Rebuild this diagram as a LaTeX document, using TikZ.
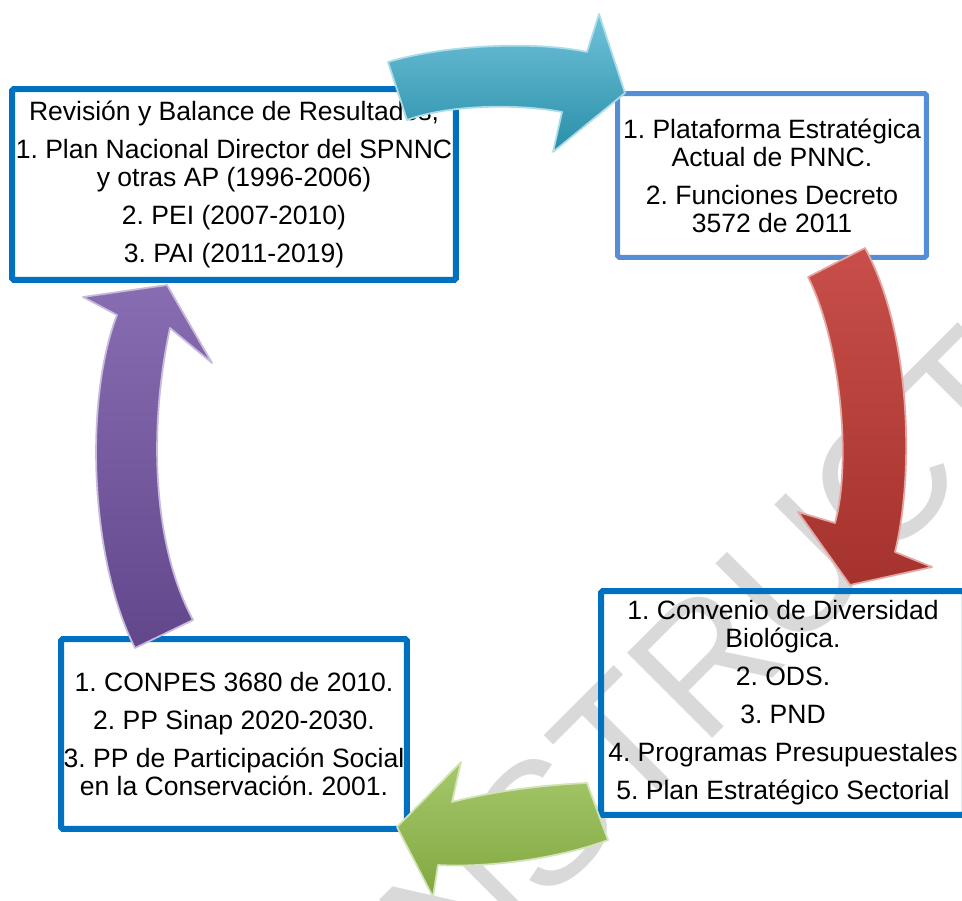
\documentclass[tikz,border=0pt]{standalone}
\usepackage{fontspec}
\setmainfont{Liberation Sans}
\frenchspacing
\definecolor{boxblue}{HTML}{0070C0}
\definecolor{boxsky}{HTML}{558ED5}
\definecolor{arrcyan}{HTML}{31A8C8}
\definecolor{arrred}{HTML}{C23B35}
\definecolor{arrgreen}{HTML}{8FBA47}
\definecolor{arrpurple}{HTML}{7353A5}

\begin{document}
\begin{tikzpicture}[x=0.02cm, y=-0.02cm,
    box/.style={draw=boxblue, line width=0.12cm, rounded corners=1pt,
                inner sep=0pt, align=center,
                font=\fontsize{15.1}{15.9}\selectfont},
    bigarrow/.style={line width=1pt, line join=round},
  ]
  \useasboundingbox (0,0) rectangle (962,901);
  \clip (0,0) rectangle (962,901);

  % watermark
  \node[rotate=45, text=black!15, font=\fontsize{99.6}{100}\selectfont]
        (marca) at (797,568) {INSTRUCTIVO};

  % boxes
  \node[box, minimum width=8.88cm, minimum height=3.82cm]
        (revision) at (234,184.5)
        {Revisión y Balance de Resultados,\\[5.7pt]
         1. Plan Nacional Director del SPNNC\\
         y otras AP (1996-2006)\\[5.7pt]
         2. PEI (2007-2010)\\[5.7pt]
         3. PAI (2011-2019)};
  \node[box, draw=boxsky, line width=0.1cm, minimum width=6.18cm, minimum height=3.28cm]
        (plataforma) at (772,175.5)
        {1. Plataforma Estratégica\\
         Actual de PNNC.\\[5.7pt]
         2. Funciones Decreto\\
         3572 de 2011};
  \node[box, minimum width=7.28cm, minimum height=4.48cm]
        (convenio) at (783,703)
        {1. Convenio de Diversidad\\
         Biológica.\\[5.7pt]
         2. ODS.\\[5.7pt]
         3. PND\\[5.7pt]
         4. Programas Presupuestales\\[5.7pt]
         5. Plan Estratégico Sectorial};
  \node[box, minimum width=6.92cm, minimum height=3.8cm]
        (conpes) at (234,734)
        {1. CONPES 3680 de 2010.\\[5.7pt]
         2. PP Sinap 2020-2030.\\[5.7pt]
         3. PP de Participación Social\\
         en la Conservación. 2001.};

  % curved arrows
  \draw[bigarrow, draw=arrcyan!40!white, top color=arrcyan!70!white,
        bottom color=arrcyan!85!black]
        (388,62) .. controls (440,46) and (530,40) .. (587,52)
        -- (599,14) -- (625,93) -- (553,152) -- (562,112)
        .. controls (520,104) and (450,104) .. (407,120) -- cycle;
  \draw[bigarrow, draw=arrred!45!white, top color=arrred!90!white,
        bottom color=arrred!85!black]
        (808,277) .. controls (840,340) and (852,460) .. (835,523)
        -- (798,512) -- (850,585) -- (932,567) -- (895,552)
        .. controls (915,470) and (910,330) .. (865,248) -- cycle;
  \draw[bigarrow, draw=arrgreen!40!white, top color=arrgreen!80!white,
        bottom color=arrgreen!90!black]
        (587,783) .. controls (540,785) and (490,792) .. (452,802)
        -- (461,762) -- (397,827) -- (433,897) -- (438,865)
        .. controls (490,868) and (560,858) .. (608,840) -- cycle;
  \draw[bigarrow, draw=arrpurple!40!white, top color=arrpurple!85!white,
        bottom color=arrpurple!85!black]
        (167,285) -- (212,363) -- (170,328)
        .. controls (150,420) and (150,540) .. (193,620) -- (135,648)
        .. controls (90,560) and (84,400) .. (117,315) -- (83,297) -- cycle;
\end{tikzpicture}
\end{document}
